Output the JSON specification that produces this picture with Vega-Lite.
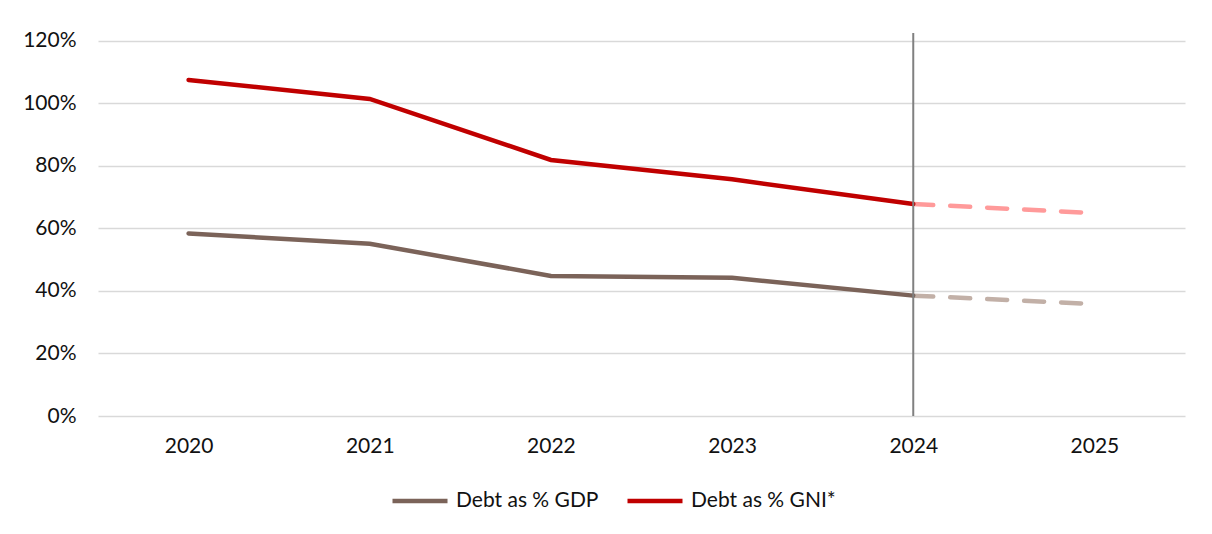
{
  "$schema": "https://vega.github.io/schema/vega-lite/v6.json",
  "autosize": {"type": "none"},
  "width": 1087,
  "height": 383,
  "padding": {"left": 98, "top": 33, "right": 27, "bottom": 118},
  "background": "white",
  "config": {
    "view": {"stroke": null},
    "font": "Lato",
    "axis": {"labelFont": "Lato", "labelFontSize": 21, "labelColor": "#111111"},
    "legend": {"labelFont": "Lato", "labelFontSize": 21, "labelColor": "#111111"}
  },
  "data": {
    "values": [
      {"year": "2020", "series": "Debt as % GDP", "segment": "actual", "value": 58.4},
      {"year": "2021", "series": "Debt as % GDP", "segment": "actual", "value": 55.1},
      {"year": "2022", "series": "Debt as % GDP", "segment": "actual", "value": 44.8},
      {"year": "2023", "series": "Debt as % GDP", "segment": "actual", "value": 44.2},
      {"year": "2024", "series": "Debt as % GDP", "segment": "actual", "value": 38.5},
      {"year": "2024", "series": "Debt as % GDP", "segment": "forecast", "value": 38.5},
      {"year": "2025", "series": "Debt as % GDP", "segment": "forecast", "value": 35.8},
      {"year": "2020", "series": "Debt as % GNI*", "segment": "actual", "value": 107.5},
      {"year": "2021", "series": "Debt as % GNI*", "segment": "actual", "value": 101.4},
      {"year": "2022", "series": "Debt as % GNI*", "segment": "actual", "value": 81.9},
      {"year": "2023", "series": "Debt as % GNI*", "segment": "actual", "value": 75.7},
      {"year": "2024", "series": "Debt as % GNI*", "segment": "actual", "value": 67.8},
      {"year": "2024", "series": "Debt as % GNI*", "segment": "forecast", "value": 67.8},
      {"year": "2025", "series": "Debt as % GNI*", "segment": "forecast", "value": 64.9}
    ]
  },
  "encoding": {
    "x": {
      "field": "year", "type": "ordinal",
      "scale": {"type": "point", "padding": 0.5},
      "axis": {"title": null, "labelAngle": 0, "ticks": false, "domain": false, "grid": false, "labelPadding": 19}
    }
  },
  "layer": [
    {
      "mark": {"type": "line", "opacity": 0},
      "encoding": {
        "y": {
          "field": "value", "type": "quantitative",
          "scale": {"domain": [0, 122.5], "nice": false},
          "axis": {"title": null, "values": [0, 20, 40, 60, 80, 100, 120], "labelExpr": "datum.value + '%'", "ticks": false, "domain": false, "gridColor": "#D9D9D9", "gridWidth": 1.5, "labelPadding": 22}
        },
        "detail": {"field": "series"}
      }
    },
    {
      "transform": [{"filter": "datum.segment == 'forecast'"}],
      "mark": {"type": "line", "strokeWidth": 4.5, "strokeDash": [20, 17], "strokeCap": "round"},
      "encoding": {
        "y": {"field": "value", "type": "quantitative"},
        "color": {
          "field": "series", "type": "nominal",
          "scale": {"domain": ["Debt as % GDP", "Debt as % GNI*"], "range": ["#C2B0A7", "#FF9A9A"]},
          "legend": null
        }
      }
    },
    {
      "transform": [{"filter": "datum.segment == 'actual'"}],
      "mark": {"type": "line", "strokeWidth": 4.5, "strokeCap": "round"},
      "encoding": {
        "y": {"field": "value", "type": "quantitative"},
        "color": {
          "field": "series", "type": "nominal",
          "scale": {"domain": ["Debt as % GDP", "Debt as % GNI*"], "range": ["#7B6359", "#C00000"]},
          "legend": {
            "title": null, "orient": "none", "direction": "horizontal",
            "legendX": 292, "legendY": 438,
            "symbolType": "stroke", "symbolSize": 3025, "symbolStrokeWidth": 4.5,
            "labelOffset": 6, "columnPadding": 19
          }
        }
      }
    },
    {
      "transform": [{"filter": "datum.year == '2024' && datum.segment == 'actual' && datum.series == 'Debt as % GDP'"}],
      "mark": {"type": "rule", "color": "#808080", "strokeWidth": 2},
      "encoding": {}
    }
  ],
  "resolve": {"scale": {"color": "independent"}}
}
